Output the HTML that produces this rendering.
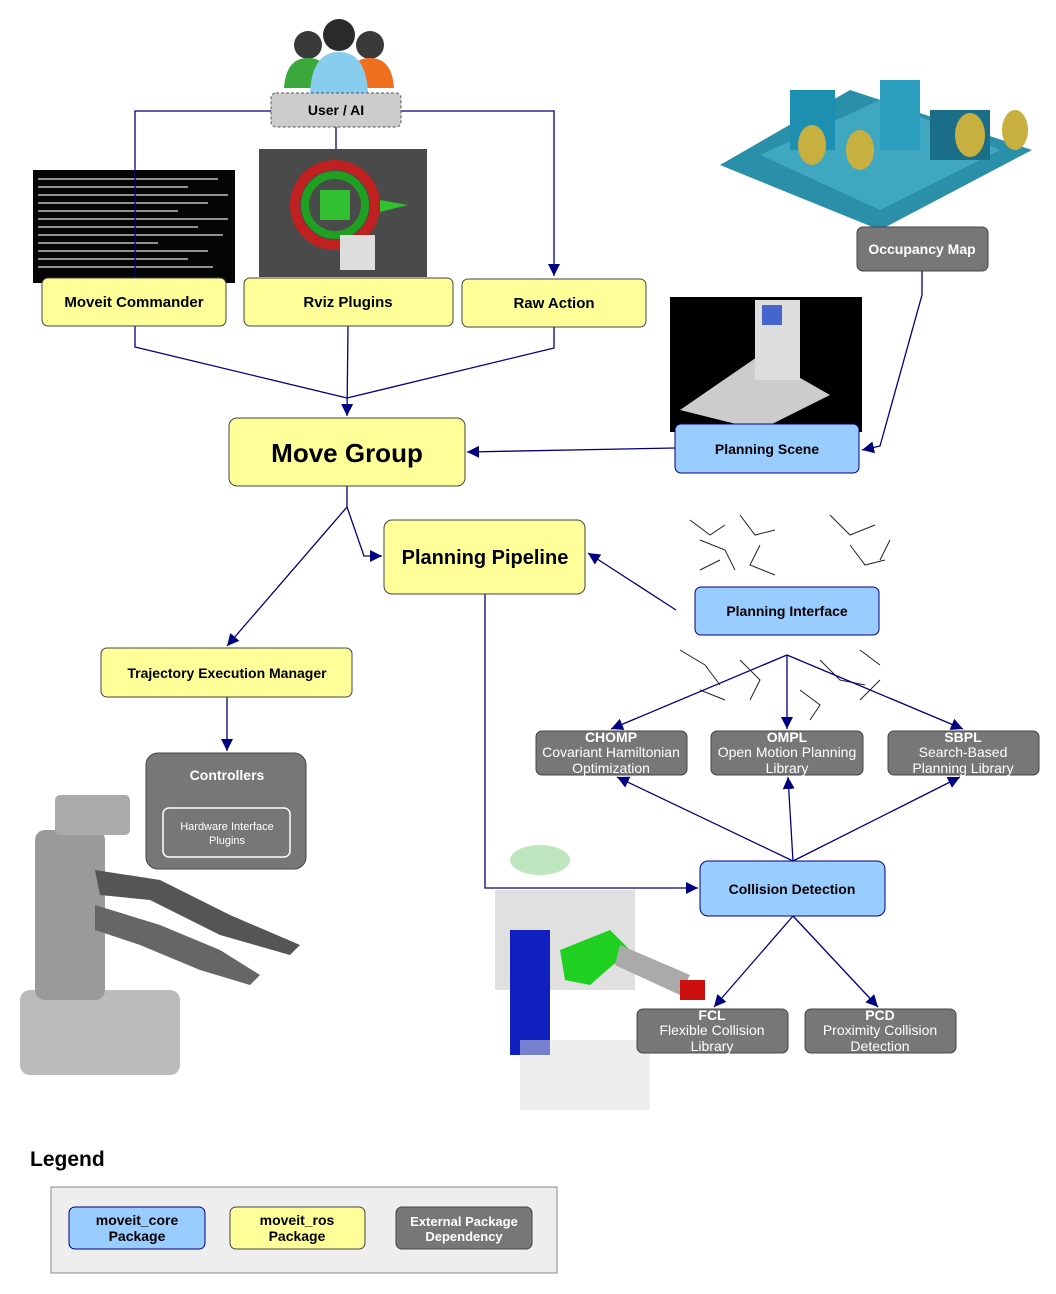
<!DOCTYPE html>
<html><head><meta charset="utf-8"><style>
html,body{margin:0;padding:0;background:#fff;}
svg{display:block;font-family:"Liberation Sans",sans-serif;}
</style></head><body>
<svg width="1056" height="1294" viewBox="0 0 1056 1294" xmlns="http://www.w3.org/2000/svg">
<defs>
<marker id="ah" viewBox="0 0 10 10" refX="10" refY="5" markerWidth="12" markerHeight="12" markerUnits="userSpaceOnUse" orient="auto"><path d="M0,0 L10,5 L0,10 z" fill="#000080"/></marker>
</defs>

<!-- images (approximations) -->
<g>
<circle cx="308" cy="45" r="14" fill="#3a3a3a"/><path d="M284,88 Q286,58 308,58 Q330,58 332,88 z" fill="#3aa83a"/>
<circle cx="370" cy="45" r="14" fill="#3a3a3a"/><path d="M346,88 Q348,58 370,58 Q392,58 394,88 z" fill="#f07020"/>
<circle cx="339" cy="35" r="16" fill="#2a2a2a"/><path d="M310,93 Q312,52 339,52 Q366,52 368,93 z" fill="#88ccee"/>
</g>
<rect x="33" y="170" width="202" height="113" fill="#050505"/>
<g fill="#ccc" opacity="0.7">
<rect x="38" y="178" width="180" height="2"/><rect x="38" y="186" width="150" height="2"/><rect x="38" y="194" width="190" height="2"/><rect x="38" y="202" width="170" height="2"/><rect x="38" y="210" width="140" height="2"/><rect x="38" y="218" width="190" height="2"/><rect x="38" y="226" width="160" height="2"/><rect x="38" y="234" width="185" height="2"/><rect x="38" y="242" width="120" height="2"/><rect x="38" y="250" width="170" height="2"/><rect x="38" y="258" width="150" height="2"/><rect x="38" y="266" width="175" height="2"/>
</g>
<rect x="259" y="149" width="168" height="128" fill="#4a4a4a"/>
<circle cx="335" cy="205" r="40" fill="none" stroke="#c02020" stroke-width="10"/>
<circle cx="335" cy="205" r="30" fill="none" stroke="#20a020" stroke-width="8"/>
<rect x="320" y="190" width="30" height="30" fill="#30c030"/>
<path d="M380,200 L408,205 L380,212 z" fill="#30c030"/>
<rect x="340" y="235" width="35" height="35" fill="#ddd"/>

<g>
<path d="M720,165 L850,90 L1032,150 L880,230 z" fill="#2a8fa8"/>
<path d="M760,155 L880,100 L1000,150 L880,210 z" fill="#3fa7c0"/>
<rect x="790" y="90" width="45" height="60" fill="#1d8fb0"/><rect x="880" y="80" width="40" height="70" fill="#2b9ec0"/>
<rect x="930" y="110" width="60" height="50" fill="#1a6e88"/>
<ellipse cx="812" cy="145" rx="14" ry="20" fill="#c8b040"/><ellipse cx="860" cy="150" rx="14" ry="20" fill="#c8b040"/>
<ellipse cx="970" cy="135" rx="15" ry="22" fill="#c8b040"/><ellipse cx="1015" cy="130" rx="13" ry="20" fill="#c8b040"/>
</g>
<rect x="670" y="297" width="192" height="135" fill="#000"/>
<path d="M680,410 L760,355 L830,395 L760,430 z" fill="#ccc"/>
<rect x="755" y="300" width="45" height="80" fill="#ddd"/><rect x="762" y="305" width="20" height="20" fill="#4466cc"/>

<g stroke="#222" stroke-width="1" fill="none">
<path d="M690,520 l20,15 l15,-10 M700,540 l25,10 l10,20 M740,515 l15,20 l20,-5 M760,545 l-10,20 l25,10 M830,515 l20,20 l25,-10 M850,545 l15,20 l20,-5 M700,570 l20,-10 M880,560 l10,-20 M680,650 l25,15 l15,20 M700,690 l25,10 M740,660 l20,20 l-10,20 M820,660 l20,20 l25,5 M860,650 l20,15 M880,680 l-20,20 M800,690 l20,15 l-10,15"/>
</g>

<g>
<rect x="20" y="990" width="160" height="85" rx="10" fill="#bbb"/>
<rect x="35" y="830" width="70" height="170" rx="10" fill="#9a9a9a"/>
<rect x="55" y="795" width="75" height="40" rx="5" fill="#aaa"/>
<path d="M95,870 L160,880 L230,915 L300,945 L290,955 L220,935 L150,900 L100,895 z" fill="#555"/>
<path d="M95,905 L160,925 L220,950 L260,975 L250,985 L200,970 L140,945 L95,930 z" fill="#666"/>
</g>
<g>
<rect x="495" y="890" width="140" height="100" fill="#ccc" opacity="0.6"/>
<rect x="510" y="930" width="40" height="125" fill="#1020c0"/>
<rect x="520" y="1040" width="130" height="70" fill="#ddd" opacity="0.5"/>
<path d="M560,950 L610,930 L630,950 L590,985 L565,980 z" fill="#20d020"/>
<path d="M620,945 L690,975 L680,995 L615,965 z" fill="#aaa"/>
<rect x="680" y="980" width="25" height="20" fill="#cc1010"/>
<ellipse cx="540" cy="860" rx="30" ry="15" fill="#80d080" opacity="0.5"/>
</g>

<!-- connectors -->
<g stroke="#000080" stroke-width="1.3" fill="none">
<path d="M271,111 H135 V278"/>
<path d="M401,111 H554 V276" marker-end="url(#ah)"/>
<path d="M336,127 V149"/>
<path d="M135,326 V347 L347,398"/>
<path d="M554,327 V348 L347,398"/>
<path d="M348,326 L347,416" marker-end="url(#ah)"/>
<path d="M675,448 L467,452" marker-end="url(#ah)"/>
<path d="M922,271 V295 L880,446 L862,450" marker-end="url(#ah)"/>
<path d="M347,486 V507 L227,646" marker-end="url(#ah)"/>
<path d="M347,507 L364,556 H382" marker-end="url(#ah)"/>
<path d="M676,610 L588,553" marker-end="url(#ah)"/>
<path d="M485,594 V888 H698" marker-end="url(#ah)"/>
<path d="M787,655 L611,729" marker-end="url(#ah)"/>
<path d="M787,655 V729" marker-end="url(#ah)"/>
<path d="M787,655 L963,729" marker-end="url(#ah)"/>
<path d="M793,861 L617,777" marker-end="url(#ah)"/>
<path d="M793,861 L788,777" marker-end="url(#ah)"/>
<path d="M793,861 L960,777" marker-end="url(#ah)"/>
<path d="M793,916 L714,1007" marker-end="url(#ah)"/>
<path d="M793,916 L878,1007" marker-end="url(#ah)"/>
<path d="M227,697 V751" marker-end="url(#ah)"/>
</g>

<!-- boxes -->
<g><rect x="271" y="93" width="130" height="34" rx="5" fill="#ccc" stroke="#555" stroke-dasharray="3,2"/><text x="336" y="115" text-anchor="middle" font-size="14" font-weight="bold">User / AI</text></g>

<g font-weight="bold" font-size="15" text-anchor="middle">
<g><rect x="42" y="278" width="184" height="48" rx="6" fill="#ffff99" stroke="#444"/><text x="134" y="307">Moveit Commander</text></g>
<g><rect x="244" y="278" width="209" height="48" rx="6" fill="#ffff99" stroke="#444"/><text x="348" y="307">Rviz Plugins</text></g>
<g><rect x="462" y="279" width="184" height="48" rx="6" fill="#ffff99" stroke="#444"/><text x="554" y="308">Raw Action</text></g>
<g><rect x="857" y="227" width="131" height="44" rx="6" fill="#777" stroke="#444"/><text x="922" y="254" fill="#fff" font-size="14">Occupancy Map</text></g>
<g><rect x="675" y="424" width="184" height="49" rx="6" fill="#99ccff" stroke="#000080"/><text x="767" y="454" font-size="14">Planning Scene</text></g>
<g><rect x="229" y="418" width="236" height="68" rx="8" fill="#ffff99" stroke="#444"/><text x="347" y="462" font-size="26">Move Group</text></g>
<g><rect x="384" y="520" width="201" height="74" rx="8" fill="#ffff99" stroke="#444"/><text x="485" y="564" font-size="20">Planning Pipeline</text></g>
<g><rect x="695" y="587" width="184" height="48" rx="6" fill="#99ccff" stroke="#000080"/><text x="787" y="616" font-size="14">Planning Interface</text></g>
<g><rect x="101" y="648" width="251" height="49" rx="6" fill="#ffff99" stroke="#444"/><text x="227" y="678" font-size="14">Trajectory Execution Manager</text></g>
<g><rect x="146" y="753" width="160" height="116" rx="12" fill="#777" stroke="#444"/><text x="227" y="780" fill="#fff" font-size="14">Controllers</text>
<rect x="163" y="808" width="127" height="49" rx="6" fill="#777" stroke="#fff" stroke-width="1.5"/>
<text x="227" y="830" fill="#fff" font-size="11" font-weight="normal">Hardware Interface</text><text x="227" y="844" fill="#fff" font-size="11" font-weight="normal">Plugins</text></g>
<g><rect x="700" y="861" width="185" height="55" rx="8" fill="#99ccff" stroke="#000080"/><text x="792" y="894" font-size="14">Collision Detection</text></g>
</g>

<g text-anchor="middle" fill="#fff" font-size="14">
<g><rect x="536" y="731" width="151" height="44" rx="6" fill="#777" stroke="#444"/><text x="611" y="742" font-weight="bold">CHOMP</text><text x="611" y="757">Covariant Hamiltonian</text><text x="611" y="773">Optimization</text></g>
<g><rect x="711" y="731" width="152" height="44" rx="6" fill="#777" stroke="#444"/><text x="787" y="742" font-weight="bold">OMPL</text><text x="787" y="757">Open Motion Planning</text><text x="787" y="773">Library</text></g>
<g><rect x="888" y="731" width="151" height="44" rx="6" fill="#777" stroke="#444"/><text x="963" y="742" font-weight="bold">SBPL</text><text x="963" y="757">Search-Based</text><text x="963" y="773">Planning Library</text></g>
<g><rect x="637" y="1009" width="151" height="44" rx="6" fill="#777" stroke="#444"/><text x="712" y="1020" font-weight="bold">FCL</text><text x="712" y="1035">Flexible Collision</text><text x="712" y="1051">Library</text></g>
<g><rect x="805" y="1009" width="151" height="44" rx="6" fill="#777" stroke="#444"/><text x="880" y="1020" font-weight="bold">PCD</text><text x="880" y="1035">Proximity Collision</text><text x="880" y="1051">Detection</text></g>
</g>

<!-- legend -->
<text x="30" y="1166" font-size="21" font-weight="bold">Legend</text>
<g>
<rect x="51" y="1187" width="506" height="86" fill="#eee" stroke="#888"/>
<g text-anchor="middle" font-size="14" font-weight="bold">
<g><rect x="69" y="1207" width="136" height="42" rx="6" fill="#99ccff" stroke="#000080"/><text x="137" y="1225">moveit_core</text><text x="137" y="1241">Package</text></g>
<g><rect x="230" y="1207" width="135" height="42" rx="6" fill="#ffff99" stroke="#444"/><text x="297" y="1225">moveit_ros</text><text x="297" y="1241">Package</text></g>
<g><rect x="396" y="1207" width="136" height="42" rx="6" fill="#777" stroke="#444"/><text x="464" y="1226" fill="#fff" font-size="13">External Package</text><text x="464" y="1241" fill="#fff" font-size="13">Dependency</text></g>
</g></g>
</svg>
</body></html>
